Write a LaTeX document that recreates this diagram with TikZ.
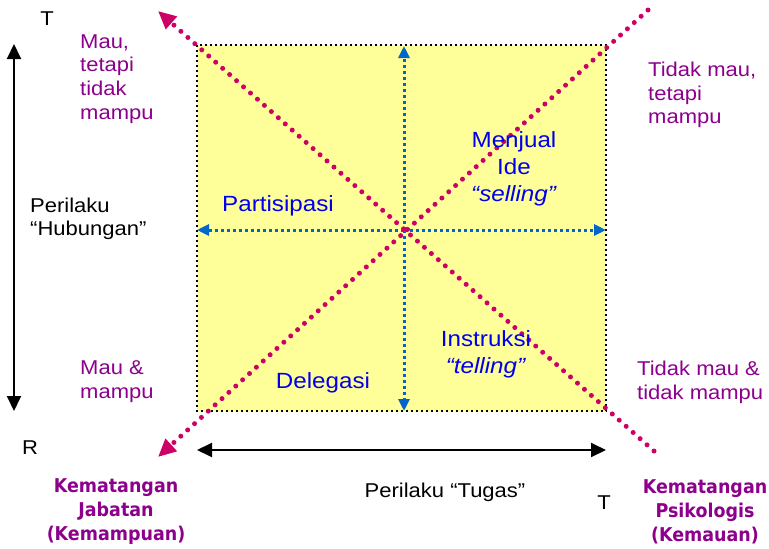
\documentclass[tikz,border=0pt]{standalone}
\usepackage{fontspec}
\setmainfont{Liberation Sans}[FakeStretch=1.1]
\newfontfamily\kemfont{DejaVu Sans}[FakeStretch=0.92]
\usetikzlibrary{arrows.meta}
\definecolor{boxyellow}{RGB}{255,255,153}
\definecolor{diagred}{RGB}{204,0,102}
\definecolor{axisblue}{RGB}{0,102,204}
\definecolor{textblue}{RGB}{0,0,238}
\definecolor{textpurple}{RGB}{140,0,140}

\begin{document}
\begin{tikzpicture}[x=1pt,y=-1pt,
  diag/.style={draw=diagred,line width=5pt,line cap=round,dash pattern=on 0pt off 9.3pt,
    -{Triangle[length=18pt,width=16pt,fill=diagred]}},
  axis/.style={draw=axisblue,line width=3pt,dash pattern=on 3pt off 3pt,
    -{Triangle[length=12pt,width=11pt,fill=axisblue]}},
  bigarrow/.style={draw=black,line width=2pt,{Triangle[length=15pt,width=14pt]}-{Triangle[length=15pt,width=14pt]}},
  purp/.style={text=textpurple,align=left,inner sep=0pt,font=\fontsize{20}{23.7}\selectfont},
  blk/.style={text=black,inner sep=0pt,font=\fontsize{20}{23}\selectfont},
  bluelab/.style={text=textblue,align=center,inner sep=0pt,font=\fontsize{22}{27}\selectfont},
  kem/.style={text=textpurple,align=center,inner sep=0pt,font=\kemfont\bfseries\fontsize{19}{24}\selectfont}]
\useasboundingbox (0,0) rectangle (769,549);

% kotak
\coordinate (nw) at (197,45);
\coordinate (se) at (606,411);
\coordinate (c) at (404,230);
\fill[boxyellow] (nw) rectangle (se);
\draw[line width=2pt,dash pattern=on 2pt off 3pt] (nw) rectangle (se);

% sumbu biru
\coordinate (up) at (404,46);
\coordinate (down) at (404,411);
\coordinate (left) at (197,230);
\coordinate (right) at (606,230);
\draw[axis] (c) -- (up);
\draw[axis] (c) -- (down);
\draw[axis] (c) -- (left);
\draw[axis] (c) -- (right);

% diagonal
\coordinate (a1) at (654,451);
\coordinate (a2) at (158,11);
\coordinate (b1) at (648,10);
\coordinate (b2) at (158,457);
\draw[diag] (a1) -- (a2);
\draw[diag] (b1) -- (b2);

% panah hitam
\coordinate (vt) at (14,44);
\coordinate (vb) at (14,411);
\coordinate (hl) at (197,450);
\coordinate (hr) at (606,450);
\draw[bigarrow] (vt) -- (vb);
\draw[bigarrow] (hl) -- (hr);

% teks
\node[blk] (t1) at (47,19) {T};
\node[blk] (r1) at (30,448) {R};
\node[blk] (t2) at (604,503) {T};
\node[blk,align=left,anchor=west] (hub) at (30,219) {Perilaku\\“Hubungan”};
\node[blk] (tugas) at (445,492) {Perilaku “Tugas”};

\node[purp,anchor=west] (q1) at (80,79) {Mau,\\tetapi\\tidak\\mampu};
\node[purp,anchor=west] (q2) at (648,95) {Tidak mau,\\tetapi\\mampu};
\node[purp,anchor=west] (q3) at (80,382) {Mau \&\\mampu};
\node[purp,anchor=west] (q4) at (637,382) {Tidak mau \&\\tidak mampu};

\node[bluelab] (part) at (278,206) {Partisipasi};
\node[bluelab] (jual) at (514,169) {Menjual\\Ide\\\textit{“selling”}};
\node[bluelab] (instr) at (486,354) {Instruksi\\\textit{“telling”}};
\node[bluelab] (deleg) at (323,383) {Delegasi};

\node[kem] (jab) at (116,512) {Kematangan\\Jabatan\\(Kemampuan)};
\node[kem] (psi) at (705,512) {Kematangan\\Psikologis\\(Kemauan)};
\end{tikzpicture}
\end{document}
